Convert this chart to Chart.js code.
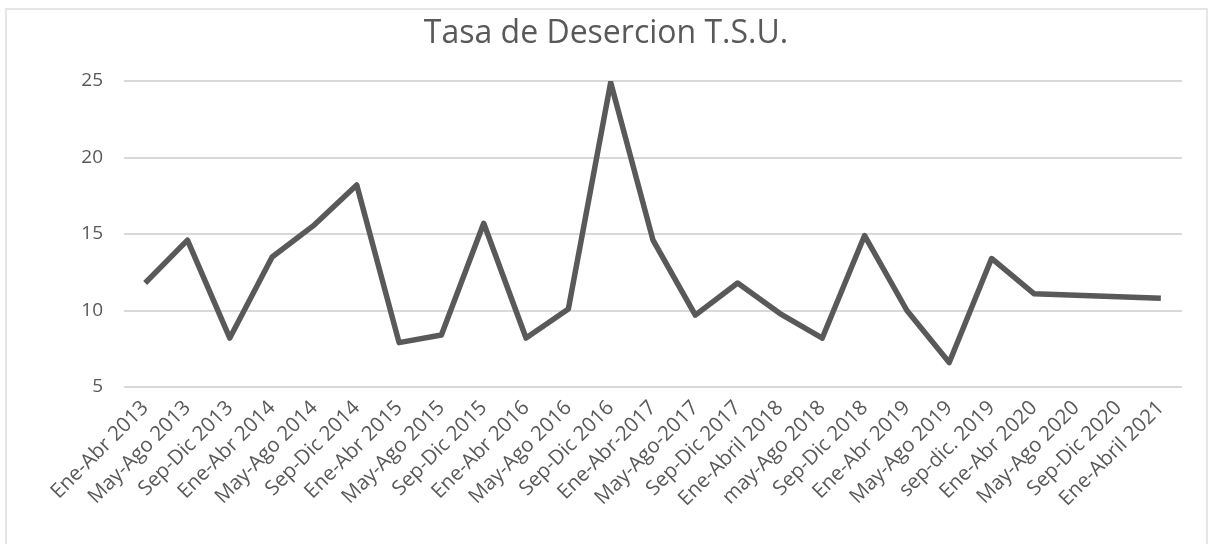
<!DOCTYPE html>
<html>
<head>
<meta charset="utf-8">
<script src="https://cdn.jsdelivr.net/npm/chart.js@4/dist/chart.umd.min.js"></script>
<style>
  html, body { margin: 0; padding: 0; background: #ffffff; }
  #wrap { position: relative; width: 1208px; height: 544px; }
</style>
</head>
<body>
<div id="wrap"><canvas id="c" width="1208" height="544"></canvas></div>
<script>
const chartTitle = "Tasa de Desercion T.S.U.";
const categories = [
  "Ene-Abr 2013", "May-Ago 2013", "Sep-Dic 2013",
  "Ene-Abr 2014", "May-Ago 2014", "Sep-Dic 2014",
  "Ene-Abr 2015", "May-Ago 2015", "Sep-Dic 2015",
  "Ene-Abr 2016", "May-Ago 2016", "Sep-Dic 2016",
  "Ene-Abr-2017", "May-Ago-2017", "Sep-Dic 2017",
  "Ene-Abril 2018", "may-Ago 2018", "Sep-Dic 2018",
  "Ene-Abr 2019", "May-Ago 2019", "sep-dic. 2019",
  "Ene-Abr 2020", "May-Ago 2020", "Sep-Dic 2020",
  "Ene-Abril 2021"
];
const desercion = [
  11.8, 14.6, 8.2,
  13.5, 15.6, 18.2,
  7.9, 8.4, 15.7,
  8.2, 10.1, 24.9,
  14.6, 9.7, 11.8,
  9.8, 8.2, 14.9,
  10.0, 6.6, 13.4,
  11.1, 11.0, 10.9,
  10.8
];
const yTickValues = [5, 10, 15, 20, 25];

const textColor = "#595959";
const fontFamily = "'Open Sans', 'Noto Sans', sans-serif";

const frame = {
  id: 'frame',
  beforeDraw(chart) {
    const ctx = chart.ctx;
    ctx.save();
    ctx.fillStyle = '#ffffff';
    ctx.fillRect(0, 0, chart.width, chart.height);
    ctx.strokeStyle = '#e6e6e6';
    ctx.lineWidth = 2;
    ctx.beginPath();
    ctx.moveTo(6, chart.height + 5);
    ctx.lineTo(6, 9);
    ctx.lineTo(1207, 9);
    ctx.lineTo(1207, chart.height + 5);
    ctx.stroke();
    // title, centred on the whole chart frame
    ctx.fillStyle = textColor;
    ctx.font = "32px " + fontFamily;
    ctx.textAlign = 'center';
    ctx.textBaseline = 'middle';
    ctx.fillText(chartTitle, 606, 34);
    ctx.restore();
  }
};

new Chart(document.getElementById('c'), {
  type: 'line',
  data: {
    labels: categories,
    datasets: [{
      label: chartTitle,
      data: desercion,
      borderColor: '#595959',
      backgroundColor: '#595959',
      borderWidth: 5.5,
      pointRadius: 0,
      pointHoverRadius: 0,
      tension: 0,
      fill: false,
      borderCapStyle: 'butt',
      borderJoinStyle: 'round'
    }]
  },
  options: {
    responsive: false,
    animation: false,
    events: [],
    layout: { padding: { left: 0, right: 26, top: 81, bottom: 0 } },
    plugins: {
      legend: { display: false },
      tooltip: { enabled: false },
      title: { display: false }
    },
    scales: {
      x: {
        type: 'category',
        offset: true,
        grid: { display: false, drawTicks: false },
        border: { display: false },
        ticks: {
          color: textColor,
          font: { family: fontFamily, size: 20.5 },
          minRotation: 45,
          maxRotation: 45,
          autoSkip: false,
          padding: 9
        },
        afterFit(scale) { scale.height = 157; }
      },
      y: {
        min: 5,
        max: 25,
        afterBuildTicks(scale) { scale.ticks = yTickValues.map(v => ({ value: v })); },
        grid: { color: '#d9d9d9', lineWidth: 2, drawTicks: false },
        border: { display: false },
        ticks: {
          color: textColor,
          font: { family: fontFamily, size: 19 },
          padding: 21
        },
        afterFit(scale) { scale.width = 124; }
      }
    }
  },
  plugins: [frame]
});
</script>
</body>
</html>
